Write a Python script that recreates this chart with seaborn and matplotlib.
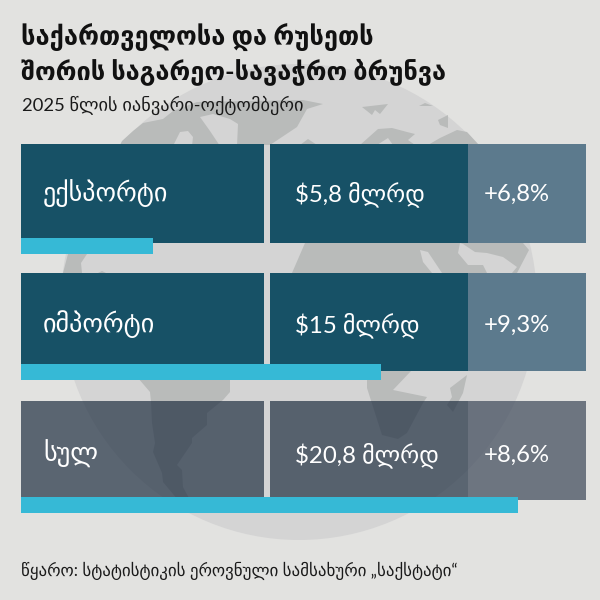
import matplotlib
matplotlib.use("Agg")
import matplotlib.pyplot as plt
from matplotlib.patches import Rectangle, Polygon, Circle
import seaborn as sns

sns.set_style("white")
plt.rcParams['font.family'] = ['Lato', 'DejaVu Sans']

# ---- content
title_lines = ["საქართველოსა და რუსეთს", "შორის საგარეო-სავაჭრო ბრუნვა"]
subtitle = "2025 წლის იანვარი-ოქტომბერი"
source = "წყარო: სტატისტიკის ეროვნული სამსახური „საქსტატი“"
categories = ["ექსპორტი", "იმპორტი", "სულ"]
amount_labels = ["$5,8 მლრდ", "$15 მლრდ", "$20,8 მლრდ"]
growth_labels = ["+6,8%", "+9,3%", "+8,6%"]
bar_values = [5.5, 15.0, 20.72]

BG = "#e2e2e0"; GLOBE = "#d4d4d4"; LAND = "#b9bbba"; CYAN = "#36b9d6"

fig = plt.figure(figsize=(6, 6), dpi=100, facecolor=BG)
bg = fig.add_axes([0, 0, 1, 1])
bg.set_xlim(0, 600); bg.set_ylim(600, 0); bg.axis("off")

# ---- globe decoration (pixel space)
bg.add_patch(Circle((299, 302), 238, fc=GLOBE, ec="none", zorder=1))
land = [
    [(120,145),(122,141),(133,131),(143,123),(163,119),(173,111),(197,102),(303,100),(323,104),
     (307,109),(297,127),(270,145)],
    [(300,145),(308,139),(317,145)],
    [(362,107),(388,104),(380,114),(375,110),(372,115)],
    [(419,106),(425,103),(433,106)],
    [(448,115),(448,128),(440,125),(438,120)],
    [(360,145),(378,129),(392,128),(407,132),(415,134),(408,140),(415,145),(428,145),(440,138),(457,130),(467,132),(479,145)],
    [(63,273),(68,254),(87,254),(81,263),(82,273)],
    [(98,273),(102,271),(106,273)],
    [(292,273),(305,243),(523,243),(529,250),(517,273)],
    [(138,378),(150,392),(151,402),(152,423),(155,443),(153,452),(162,473),(163,482),(178,500),(190,500),
     (183,487),(182,470),(177,465),(192,443),(192,438),(207,425),(207,413),(223,400),(230,392),(230,378)],
    [(367,370),(367,388),(375,413),(382,435),(398,439),(407,433),(423,403),(427,397),(393,390),(412,370)],
    [(450,388),(467,375),(463,393),(453,412),(447,405),(452,397)],
]
for pts in land:
    bg.add_patch(Polygon(pts, closed=True, fc=LAND, ec="none", zorder=2))
bays = [
    [(200,117),(213,114),(230,119),(238,124),(237,146),(220,146),(210,131)],
    [(173,146),(180,132),(188,131),(193,137),(192,146)],
    [(377,145),(388,138),(393,145)],
    [(420,250),(428,252),(442,273),(432,273),(423,262)],
    [(460,243),(458,253),(468,265),(483,265),(487,273),(512,273),(517,267),(503,257),(487,253),(475,252),(463,244)],
]
for pts in bays:
    bg.add_patch(Polygon(pts, closed=True, fc=GLOBE, ec="none", zorder=3))

# ---- boxes
rows = [(144, 243), (273, 371), (401, 500)]
bar_tops = [238, 364, 497]
bar_bottoms = [254, 380, 513]
baselines = [201, 332, 462]
box_cols = [("#175166", "#5c7a8d", 1), ("#175166", "#5c7a8d", 1), ("#213042", "#3c4758", 0.7)]
for (t, b), (c1, c2, a) in zip(rows, box_cols):
    bg.add_patch(Rectangle((21, t), 243, b - t, fc=c1, ec="none", alpha=a, zorder=4))
    bg.add_patch(Rectangle((270, t), 198, b - t, fc=c1, ec="none", alpha=a, zorder=4))
    bg.add_patch(Rectangle((468, t), 117.5, b - t, fc=c2, ec="none", alpha=a, zorder=4))

# ---- texts
bg.text(21, 46, title_lines[0], fontsize=18.4, fontweight="bold", color="#111111", zorder=6)
bg.text(21, 79, title_lines[1], fontsize=18.3, fontweight="bold", color="#111111", zorder=6)
bg.text(22, 111, subtitle, fontsize=13.2, color="#1a1a1a", zorder=6)
bg.text(21, 576, source, fontsize=12.2, color="#1a1a1a", zorder=6)
for cat, amt, gr, base in zip(categories, amount_labels, growth_labels, baselines):
    bg.text(43, base, cat, fontsize=18.8, color="white", zorder=6)
    bg.text(295, base, amt, fontsize=17.3, color="white", zorder=6)
    bg.text(484, base, gr, fontsize=17.2, color="white", zorder=6)

# ---- cyan bars: one small axes per row, sharing a 24 px-per-unit scale
AX_W = 564
for cat, val, t, b in zip(categories, bar_values, bar_tops, bar_bottoms):
    ax = fig.add_axes([21 / 600, 1 - b / 600, AX_W / 600, (b - t) / 600], facecolor="none", zorder=5)
    sns.barplot(x=[val], y=[cat], orient="h", color=CYAN, saturation=1, width=1.0,
                linewidth=0, edgecolor="none", ax=ax)
    ax.set_xlim(0, AX_W / 24)
    ax.set_ylim(0.5, -0.5)
    ax.axis("off")

fig.savefig("out.png", dpi=100, facecolor=BG)
